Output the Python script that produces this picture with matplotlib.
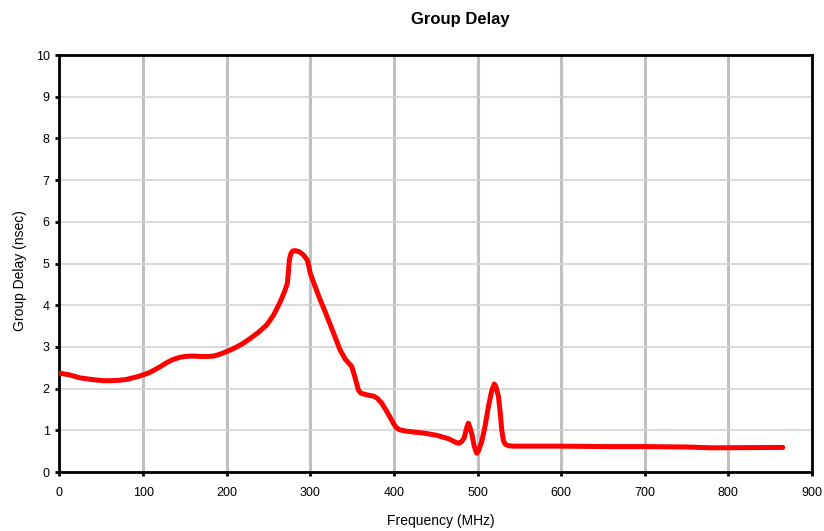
import matplotlib
matplotlib.use("Agg")
import matplotlib.pyplot as plt
import numpy as np

plt.rcParams['font.family'] = ['Liberation Sans', 'DejaVu Sans']

# frequency (MHz) and group delay (nsec)
freq = [0, 12, 24, 38, 52, 62, 72, 80, 88, 94, 100, 106, 112, 120, 128, 136,
        144, 150, 156, 162, 168, 176, 184, 188, 194, 200, 206, 212, 220, 228,
        238, 248, 256, 264, 269, 272.5, 274, 275, 277, 279, 282, 287, 292,
        296.5, 298, 300, 310, 320, 328, 335.5, 342, 349.5, 353, 357.5, 360,
        363.5, 370, 375.5, 380, 385.5, 393, 399.3, 403, 407, 415, 423, 437,
        451, 465, 475, 478, 481, 484, 486, 488, 489, 490, 493, 496, 499, 501,
        505, 509, 513, 517, 520, 522, 525, 527, 529, 531, 533, 537, 543, 600,
        650, 700, 750, 780, 865]
delay = [2.37, 2.33, 2.26, 2.22, 2.19, 2.19, 2.2, 2.22, 2.26, 2.29, 2.33,
         2.37, 2.43, 2.52, 2.62, 2.7, 2.75, 2.77, 2.78, 2.78, 2.77, 2.77,
         2.78, 2.8, 2.84, 2.89, 2.94, 3.0, 3.09, 3.2, 3.35, 3.53, 3.76, 4.08,
         4.32, 4.52, 4.85, 5.1, 5.25, 5.3, 5.31, 5.28, 5.2, 5.08, 4.95, 4.76,
         4.22, 3.73, 3.32, 2.93, 2.7, 2.53, 2.3, 1.97, 1.9, 1.87, 1.84, 1.82,
         1.77, 1.65, 1.4, 1.17, 1.06, 1.01, 0.98, 0.96, 0.93, 0.88, 0.8, 0.7,
         0.69, 0.73, 0.82, 0.98, 1.12, 1.17, 1.12, 0.93, 0.62, 0.45, 0.5, 0.73,
         1.1, 1.57, 1.95, 2.11, 2.05, 1.81, 1.45, 1.01, 0.75, 0.67, 0.63, 0.62,
         0.62, 0.61, 0.61, 0.6, 0.58, 0.59]

fig = plt.figure(figsize=(8.24, 5.31), dpi=100)
ax = fig.add_axes([0.0722, 0.1111, 0.9132, 0.7853])

ax.plot(freq, delay, color='#ff0000', linewidth=3.6,
        solid_joinstyle='round', solid_capstyle='round', zorder=3)

ax.set_xlim(0, 900)
ax.set_ylim(0, 10)
ax.set_xticks(np.arange(0, 901, 100))
ax.set_yticks(np.arange(0, 11, 1))

ax.yaxis.grid(True, color='#d4d4d4', linewidth=1.2)
ax.xaxis.grid(True, color='#c0c0c0', linewidth=2.2)
ax.set_axisbelow(True)

for s in ax.spines.values():
    s.set_linewidth(2)
    s.set_color('black')

ax.tick_params(direction='out', length=3, width=2, labelsize=9, pad=4)
ax.tick_params(axis='x', pad=8)

fig.text(0.559, 0.964, 'Group Delay', ha='center', va='center',
         fontsize=12, fontweight='bold')
fig.text(0.535, 0.018, 'Frequency (MHz)', ha='center', va='center', fontsize=10)
fig.text(0.024, 0.49, 'Group Delay (nsec)', ha='center', va='center',
         rotation=90, fontsize=10)

fig.savefig('out.png', dpi=100)
